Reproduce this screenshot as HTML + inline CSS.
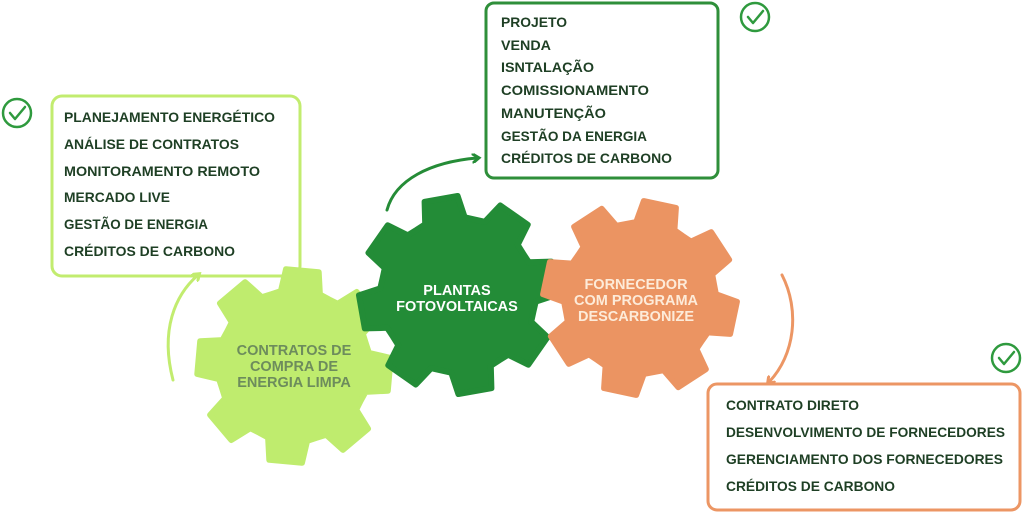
<!DOCTYPE html>
<html><head><meta charset="utf-8"><style>
html,body{margin:0;padding:0;background:#fff;width:1024px;height:512px;overflow:hidden}
svg{display:block}
.t{font-family:"Liberation Sans",sans-serif;font-weight:bold;font-size:14px;fill:#1e3f24}
.g{font-family:"Liberation Sans",sans-serif;font-weight:bold;font-size:14.5px;text-anchor:middle}
</style></head><body>
<svg id="s" width="1024" height="512" viewBox="0 0 1024 512" xmlns="http://www.w3.org/2000/svg">
<defs>
<marker id="al" markerWidth="10" markerHeight="10" refX="5" refY="5" orient="auto" markerUnits="userSpaceOnUse"><path d="M0,0 L7,5 L0,10" fill="none" stroke="#c2ec6f" stroke-width="3" stroke-linecap="round"/></marker>
<marker id="ad" markerWidth="10" markerHeight="10" refX="5" refY="5" orient="auto" markerUnits="userSpaceOnUse"><path d="M0,0 L7,5 L0,10" fill="none" stroke="#258c37" stroke-width="3" stroke-linecap="round"/></marker>
<marker id="ao" markerWidth="10" markerHeight="10" refX="5" refY="5" orient="auto" markerUnits="userSpaceOnUse"><path d="M0,0 L7,5 L0,10" fill="none" stroke="#ec9664" stroke-width="3" stroke-linecap="round"/></marker>
</defs>
<rect x="52" y="96" width="248" height="180" rx="10" fill="#fff" stroke="#c2ec6f" stroke-width="3"/>
<rect x="486" y="3" width="232" height="175" rx="8" fill="#fff" stroke="#2f8f3a" stroke-width="3"/>
<rect x="708" y="384" width="312" height="126" rx="9" fill="#fff" stroke="#ec9664" stroke-width="3"/>
<g id="gears"></g>
<path d="M173,380 C160,330 175,295 198,275" fill="none" stroke="#c2ec6f" stroke-width="3" stroke-linecap="round" marker-end="url(#al)"/>
<path d="M387,210 C395,180 430,162 477,158" fill="none" stroke="#258c37" stroke-width="3" stroke-linecap="round" marker-end="url(#ad)"/>
<path d="M782,275 C800,310 795,355 769,382" fill="none" stroke="#ec9664" stroke-width="3" stroke-linecap="round" marker-end="url(#ao)"/>
<g fill="none" stroke="#2f9a3e" stroke-width="2.5" stroke-linecap="round" stroke-linejoin="round">
<circle cx="17" cy="113" r="14"/><path d="M10,113 L15,119 L25,107"/>
<circle cx="755" cy="17" r="14"/><path d="M748,17 L753,23 L763,11"/>
<circle cx="1006" cy="358" r="14"/><path d="M999,358 L1004,364 L1014,352"/>
</g>
<text class="t" x="64" y="122" textLength="211" lengthAdjust="spacingAndGlyphs">PLANEJAMENTO ENERGÉTICO</text>
<text class="t" x="64" y="149" textLength="175" lengthAdjust="spacingAndGlyphs">ANÁLISE DE CONTRATOS</text>
<text class="t" x="64" y="176" textLength="196" lengthAdjust="spacingAndGlyphs">MONITORAMENTO REMOTO</text>
<text class="t" x="64" y="202" textLength="106" lengthAdjust="spacingAndGlyphs">MERCADO LIVE</text>
<text class="t" x="64" y="229" textLength="144" lengthAdjust="spacingAndGlyphs">GESTÃO DE ENERGIA</text>
<text class="t" x="64" y="256" textLength="171" lengthAdjust="spacingAndGlyphs">CRÉDITOS DE CARBONO</text>
<text class="t" x="501" y="27" textLength="66" lengthAdjust="spacingAndGlyphs">PROJETO</text>
<text class="t" x="501" y="50" textLength="50" lengthAdjust="spacingAndGlyphs">VENDA</text>
<text class="t" x="501" y="72" textLength="93" lengthAdjust="spacingAndGlyphs">ISNTALAÇÃO</text>
<text class="t" x="501" y="95" textLength="148" lengthAdjust="spacingAndGlyphs">COMISSIONAMENTO</text>
<text class="t" x="501" y="118" textLength="105" lengthAdjust="spacingAndGlyphs">MANUTENÇÃO</text>
<text class="t" x="501" y="141" textLength="146" lengthAdjust="spacingAndGlyphs">GESTÃO DA ENERGIA</text>
<text class="t" x="501" y="163" textLength="171" lengthAdjust="spacingAndGlyphs">CRÉDITOS DE CARBONO</text>
<text class="t" x="726" y="410" textLength="133" lengthAdjust="spacingAndGlyphs">CONTRATO DIRETO</text>
<text class="t" x="726" y="437" textLength="279" lengthAdjust="spacingAndGlyphs">DESENVOLVIMENTO DE FORNECEDORES</text>
<text class="t" x="726" y="464" textLength="277" lengthAdjust="spacingAndGlyphs">GERENCIAMENTO DOS FORNECEDORES</text>
<text class="t" x="726" y="491" textLength="169" lengthAdjust="spacingAndGlyphs">CRÉDITOS DE CARBONO</text>
<g class="g" fill="#6d8c5c"><text x="294" y="355">CONTRATOS DE</text><text x="294" y="371">COMPRA DE</text><text x="294" y="387">ENERGIA LIMPA</text></g>
<g class="g" fill="#ffffff"><text x="457" y="295">PLANTAS</text><text x="457" y="311">FOTOVOLTAICAS</text></g>
<g class="g" fill="#fdebd9"><text x="636" y="289">FORNECEDOR</text><text x="636" y="305">COM PROGRAMA</text><text x="636" y="321">DESCARBONIZE</text></g>
</svg>
<script>
function gear(cx,cy,R,r,rot,col){
 var p=[],n=8,step=Math.PI*2/n,tw=0.17,bw=0.26;
 for(var i=0;i<n;i++){
  var a=i*step+rot*Math.PI/180-Math.PI/2;
  var pts=[[a-bw,r],[a-tw,R],[a+tw,R],[a+bw,r],[a+step/2,r*0.99]];
  pts.forEach(function(q){p.push((cx+q[1]*Math.cos(q[0])).toFixed(1)+","+(cy+q[1]*Math.sin(q[0])).toFixed(1));});
 }
 var el=document.createElementNS("http://www.w3.org/2000/svg","polygon");
 el.setAttribute("points",p.join(" "));el.setAttribute("fill",col);
 el.setAttribute("stroke",col);el.setAttribute("stroke-width","6");el.setAttribute("stroke-linejoin","round");
 document.getElementById("gears").appendChild(el);
}
gear(294,366,97,76,5,"#bfec6e");
gear(458,295,99,78,-10,"#238c37");
gear(640,298,97,76,12,"#eb9462");
</script>
</body></html>
